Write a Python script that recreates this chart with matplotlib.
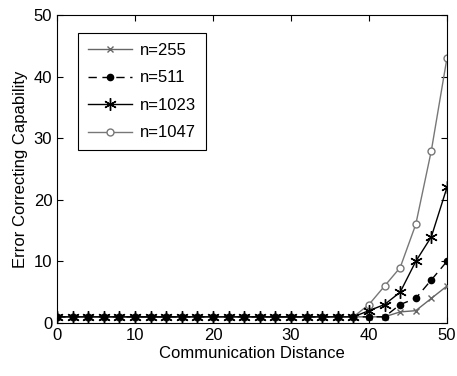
import numpy as np
import matplotlib
matplotlib.use("Agg")
import matplotlib.pyplot as plt

plt.rcParams['font.family'] = ['Liberation Sans', 'DejaVu Sans']

# communication distance 0..50 step 2
distance = list(range(0, 52, 2))
flat = [1] * 20  # distances 0..38

n255 = flat + [1, 1, 1.8, 2, 4, 6]
n511 = flat + [1, 1, 3, 4, 7, 10]
n1023 = flat + [2, 3, 5, 10, 14, 22]
n1047 = flat + [3, 6, 9, 16, 28, 43]

fig = plt.figure(figsize=(4.57, 3.76), dpi=100)
ax = fig.add_axes([0.125, 0.141, 0.853, 0.819])

ax.plot(distance, n255, color='#666666', lw=1, marker='x', ms=5, label='n=255',
        zorder=3)
ax.plot(distance, n511, color='black', lw=1, ls=(0, (6, 4)), marker='o', ms=4.5,
        mfc='black', label='n=511', zorder=5)
ax.plot(distance, n1023, color='black', lw=1, marker=(6, 2, 0), ms=9, mew=1,
        label='n=1023', zorder=4)
ax.plot(distance, n1047, color='#777777', lw=1, marker='o', ms=5, mfc='white',
        label='n=1047', zorder=2)

ax.set_xlim(0, 50)
ax.set_ylim(0, 50)
ax.set_xticks([0, 10, 20, 30, 40, 50])
ax.set_yticks([0, 10, 20, 30, 40, 50])
ax.tick_params(direction='in', top=True, right=True, labelsize=12, length=4)
ax.set_xlabel('Communication Distance', fontsize=12, labelpad=2)
ax.set_ylabel('Error Correcting Capability', fontsize=12, labelpad=4)

leg = ax.legend(loc='upper left', bbox_to_anchor=(0.054, 0.942), fontsize=12,
                fancybox=False, edgecolor='black', framealpha=1,
                borderaxespad=0, handlelength=2.6, handletextpad=0.5,
                borderpad=0.6, labelspacing=0.75)
leg.get_frame().set_linewidth(0.8)

fig.savefig('out.png', dpi=100)
